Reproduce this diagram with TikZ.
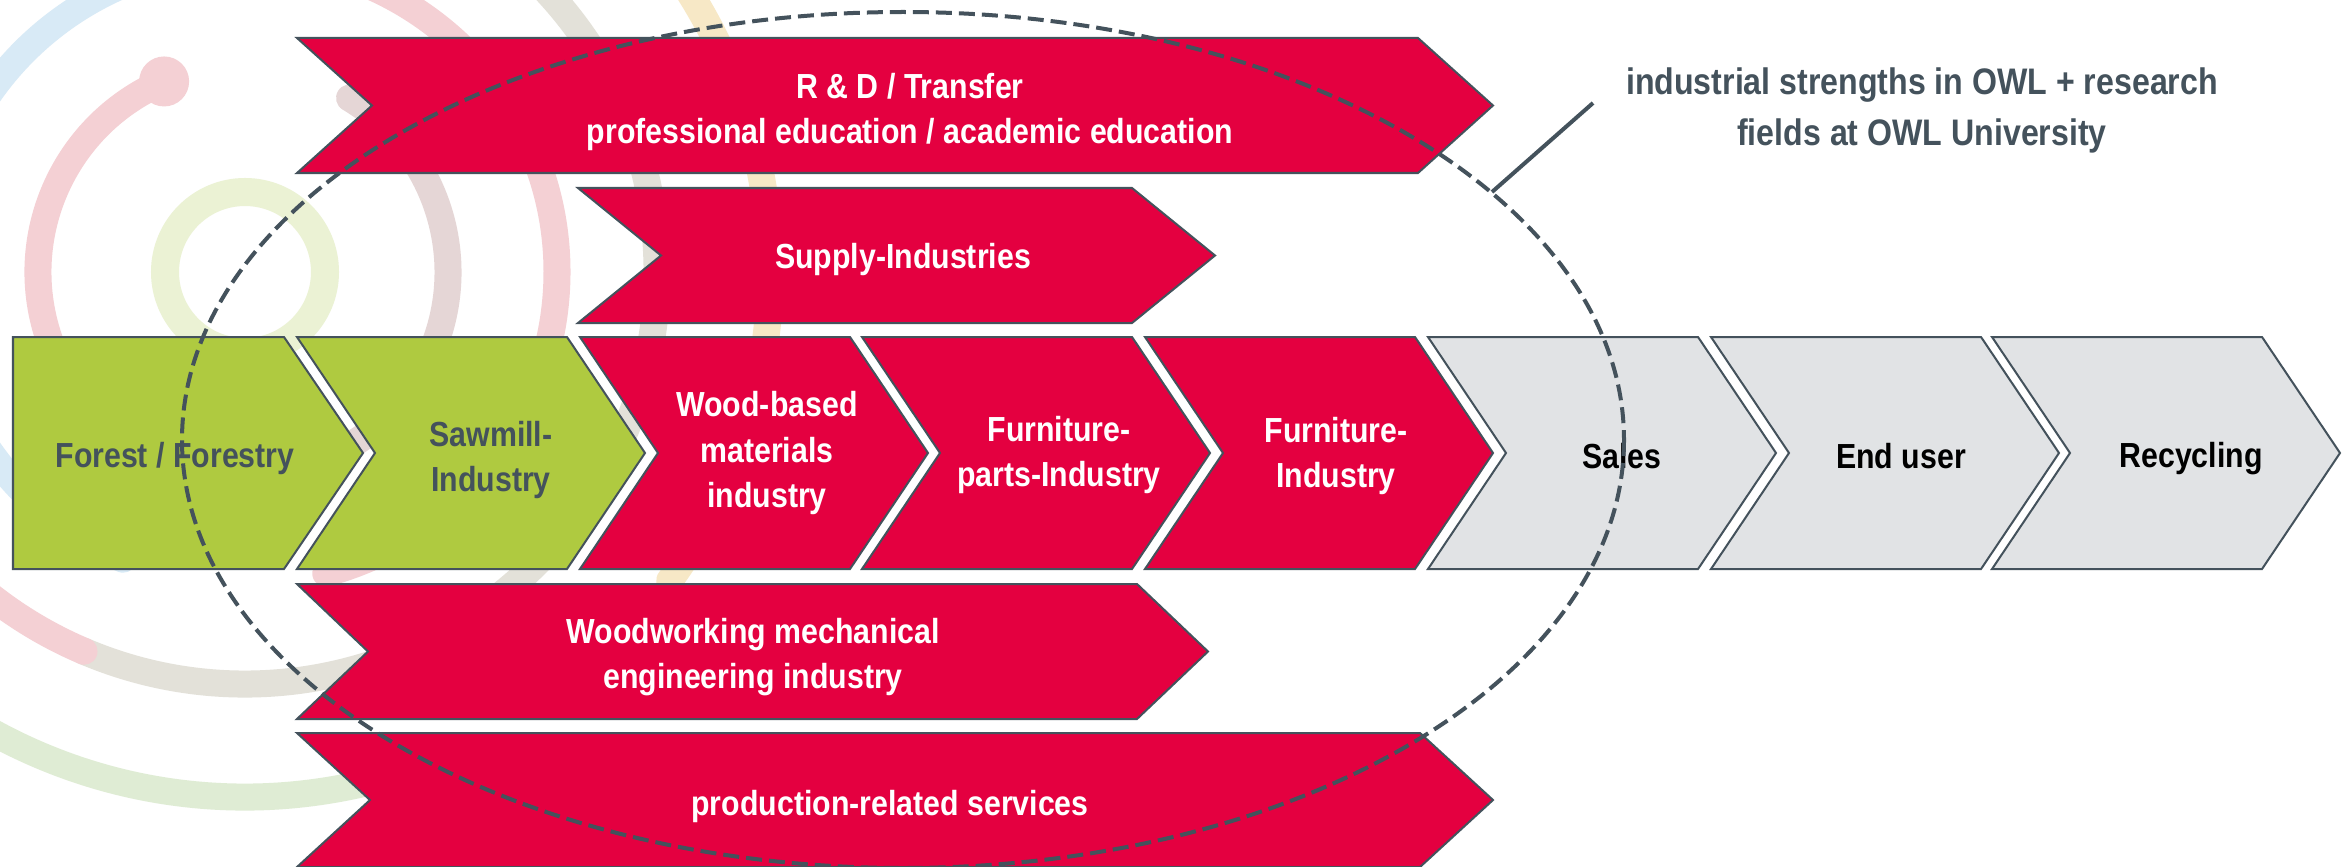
\documentclass[tikz,border=0pt]{standalone}
\usepackage{fontspec}
\newfontfamily\chevfont{Liberation Sans}[FakeStretch=0.87]
\definecolor{owlred}{RGB}{228,0,64}
\definecolor{owlgreen}{RGB}{175,202,64}
\definecolor{owlgrey}{RGB}{225,227,229}
\definecolor{owldark}{RGB}{68,82,92}
\definecolor{logoblue}{RGB}{216,234,246}
\definecolor{logopink}{RGB}{244,208,212}
\definecolor{logomauve}{RGB}{229,214,214}
\definecolor{logogrey}{RGB}{227,225,217}
\definecolor{logoyellow}{RGB}{247,232,198}
\definecolor{logogreen}{RGB}{223,236,212}
\definecolor{logolime}{RGB}{235,242,212}
\tikzset{
  chev/.style={draw=owldark, line width=0.02cm, line join=miter},
  redchev/.style={chev, fill=owlred},
  greenchev/.style={chev, fill=owlgreen},
  greychev/.style={chev, fill=owlgrey},
  lbl/.style={font=\chevfont\bfseries\fontsize{9.9pt}{12.8pt}\selectfont, align=center, inner sep=0pt},
  redlbl/.style={lbl, text=white},
  greenlbl/.style={lbl, text=owldark},
  greylbl/.style={lbl, text=black},
  annlbl/.style={font=\chevfont\bfseries\fontsize{10.5pt}{14.5pt}\selectfont, align=center, inner sep=0pt, text=owldark},
  logo/.style={line width=0.27cm, line cap=round},
  ringline/.style={draw=owldark, line width=0.04cm, dash pattern=on 0.16cm off 0.07cm},
  annline/.style={draw=owldark, line width=0.04cm},
}
% #1 style, #2 left x, #3 top y, #4 rectangular width, #5 height, #6 point depth
\newcommand{\mychev}[6]{%
  \draw[#1] (#2,#3) -- ++(#4,0) -- ++(#6,#5/2) -- ++(-#6,#5/2) -- ++(-#4,0) -- ++(#6,-#5/2) -- cycle;}
\begin{document}
\begin{tikzpicture}[x=0.01cm, y=-0.01cm]
\useasboundingbox (0,0) rectangle (2349,867);
\clip (0,0) rectangle (2349,867);
\fill[white] (0,0) rectangle (2349,867);

% faint background logo
\coordinate (lc) at (245,272);
\draw[logo, draw=logoblue] (lc) ++(113:312) arc[start angle=113, end angle=262, radius=312];
\draw[logo, draw=logopink] (lc) ++(272:312) arc[start angle=272, end angle=435, radius=312];
\draw[logo, draw=logogrey] (lc) ++(300:412) arc[start angle=300, end angle=473, radius=412];
\draw[logo, draw=logopink] (lc) ++(473:412) arc[start angle=473, end angle=530, radius=412];
\draw[logo, draw=logoyellow] (lc) ++(290:525) arc[start angle=290, end angle=396, radius=525];
\draw[logo, draw=logogreen] (lc) ++(437:525) arc[start angle=437, end angle=520, radius=525];
\draw[logo, draw=logomauve] (lc) ++(301:203) arc[start angle=301, end angle=420, radius=203];
\draw[logo, draw=logopink] (lc) ++(247:207) arc[start angle=247, end angle=130, radius=207];
\fill[logopink] (lc) ++(247:207) circle[radius=25];
\draw[logo, draw=logolime, line width=0.28cm] (lc) circle[radius=80];

% upper chevrons
\mychev{redchev}{297}{38}{1121}{135}{75}
\mychev{redchev}{578}{188}{554}{135}{83}
% main row
\draw[greenchev] (13,337) -- (284,337) -- (363,453) -- (284,569) -- (13,569) -- cycle;
\mychev{greenchev}{297}{337}{270}{232}{78}
\mychev{redchev}{580}{337}{270}{232}{78}
\mychev{redchev}{862}{337}{270}{232}{78}
\mychev{redchev}{1145}{337}{270}{232}{78}
\mychev{greychev}{1428}{337}{270}{232}{78}
\mychev{greychev}{1711}{337}{270}{232}{78}
\mychev{greychev}{1992}{337}{270}{232}{78}
% lower chevrons
\mychev{redchev}{297}{584}{840}{135}{71}
\mychev{redchev}{297}{733}{1123}{134}{73}

% labels
\node[redlbl] (rd) at (910,112) {R \& D / Transfer\\professional education / academic education};
\node[redlbl] (supply) at (903,259) {Supply-Industries};
\node[greenlbl] (forest) at (175,458) {Forest / Forestry};
\node[greenlbl] (sawmill) at (491,460) {Sawmill-\\Industry};
\node[redlbl] (wood) at (767,453) {Wood-based\\materials\\industry};
\node[redlbl] (fparts) at (1059,455) {Furniture-\\parts-Industry};
\node[redlbl] (find) at (1336,456) {Furniture-\\Industry};
\node[greylbl] (sales) at (1622,456) {Sales};
\node[greylbl] (enduser) at (1901,456) {End user};
\node[greylbl] (recyc) at (2191,459) {Recycling};
\node[redlbl] (woodwork) at (753,657) {Woodworking mechanical\\engineering industry};
\node[redlbl] (prod) at (890,806) {production-related services};

% dashed focus ellipse and annotation
\draw[ringline] (903,440) ellipse[x radius=721, y radius=428];
\node[annlbl] (ann) at (1922,110) {industrial strengths in OWL + research\\fields at OWL University};
\coordinate (annA) at (1593,103);
\coordinate (annB) at (1492,192);
\draw[annline] (annA) -- (annB);
\end{tikzpicture}
\end{document}
